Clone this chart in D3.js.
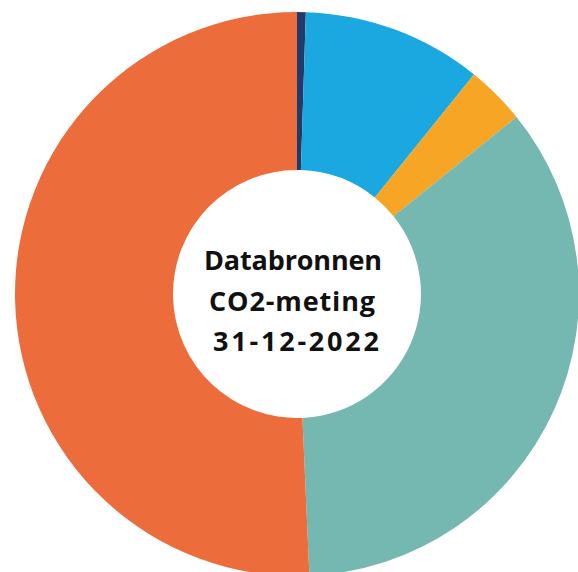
<!DOCTYPE html>
<head>
  <meta charset="utf-8">
  <title>Databronnen CO2-meting</title>
  <script src="https://d3js.org/d3.v7.min.js"></script>
</head>

<style>
  body {
    margin: 0;
    background: #fff;
  }
  .center-label {
    font-family: "Open Sans", "Noto Sans", sans-serif;
    font-weight: bold;
    font-size: 27px;
    fill: #111;
  }
</style>

<body>
  <svg id='svg-chart'></svg>
</body>

<script>

var width = 578,
    height = 572,
    cx = 297,
    cy = 294,
    outer_r = 282,
    inner_r = 124;

// slices, clockwise from 12 o'clock
var sources = ['navy', 'blue', 'yellow', 'teal', 'orange'];
var shares = [0.5, 10.3, 3.4, 35.1, 50.7];
var slice_colours = ['#203A6B', '#1BA8E0', '#F6A524', '#75B7B1', '#ED6C3C'];
var label_lines = ['Databronnen', 'CO2-meting', '31-12-2022'];

var svg = d3.select('#svg-chart')
  .attr('width', width)
  .attr('height', height);

var g = svg.append('g')
  .attr('transform', 'translate(' + cx + ',' + cy + ')');

var colour = d3.scaleOrdinal().domain(sources).range(slice_colours);

var pie = d3.pie()
  .sort(null)
  .value(function(d) { return d.value; });

var arc = d3.arc()
  .innerRadius(inner_r)
  .outerRadius(outer_r);

var data = sources.map(function(s, i) { return {name: s, value: shares[i]}; });

g.selectAll('path.slice')
  .data(pie(data))
  .enter()
  .append('path')
  .attr('class', 'slice')
  .attr('d', arc)
  .attr('fill', function(d) { return colour(d.data.name); });

// line widths / offsets to mimic the rounded original font
var line_w = [178, 166, 166],
    line_dx = [-4, -5, -1];

g.selectAll('text.center-label')
  .data(label_lines)
  .enter()
  .append('text')
  .attr('class', 'center-label')
  .attr('text-anchor', 'middle')
  .attr('x', function(_, i) { return line_dx[i]; })
  .attr('y', function(_, i) { return -24 + i * 40.5; })
  .attr('textLength', function(_, i) { return line_w[i]; })
  .attr('lengthAdjust', 'spacing')
  .text(function(d) { return d; });

</script>
